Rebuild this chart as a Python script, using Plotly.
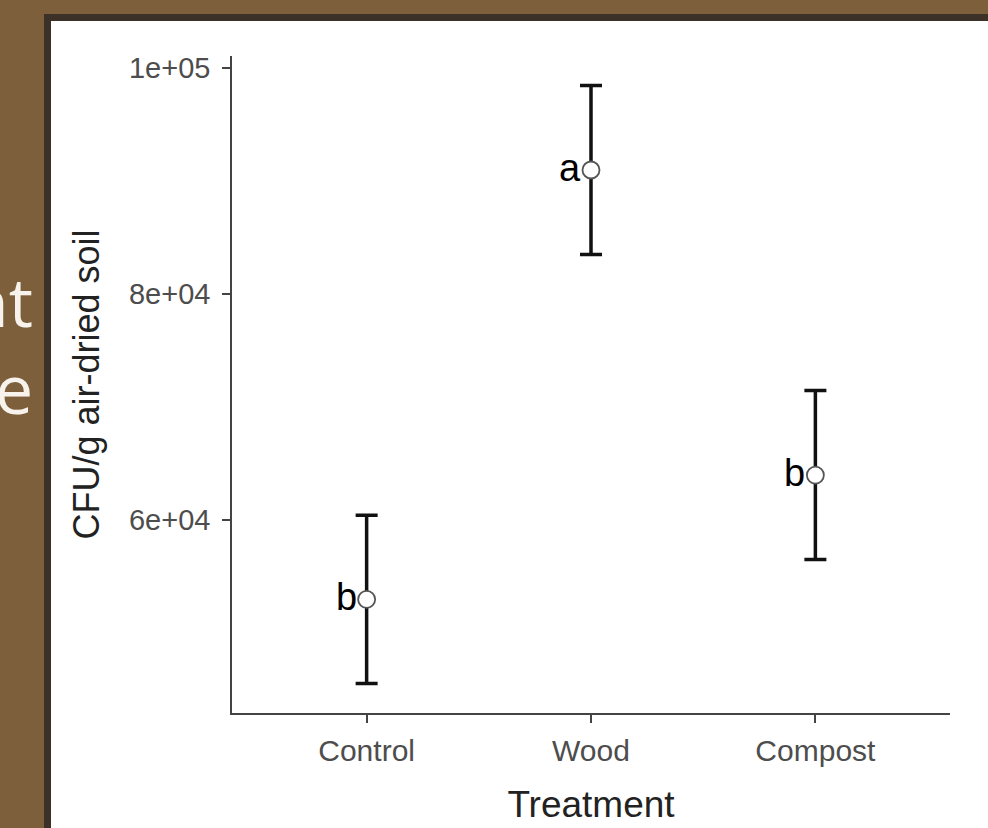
import plotly.graph_objects as go

# ---- data ----
treatments = ["Control", "Wood", "Compost"]
means = [53000, 91000, 64000]
se = [7450, 7480, 7480]
letters = ["b", "a", "b"]
ytick_vals = [60000, 80000, 100000]
ytick_text = ["6e+04", "8e+04", "1e+05"]
side_text = ["nt", "e"]

W, H = 988, 828
L, R, T, B = 232, 38, 56, 115
PW, PH = W - L - R, H - T - B


def px(x):
    return (x - L) / PW


def py(y):
    return (H - B - y) / PH


fig = go.Figure()

fig.add_trace(go.Scatter(
    x=[1, 2, 3], y=means,
    mode="markers",
    marker=dict(size=17, color="white", line=dict(color="#555555", width=1.8)),
    error_y=dict(type="data", array=se, visible=True, color="#111111",
                 thickness=3.5, width=11),
    showlegend=False, hoverinfo="skip",
))

annotations = []
for i, (m, lt) in enumerate(zip(means, letters)):
    annotations.append(dict(x=i + 1, y=m, xref="x", yref="y", text=lt,
                            showarrow=False, xanchor="right", yanchor="middle",
                            xshift=-8, yshift=2,
                            font=dict(family="Liberation Sans", size=38, color="black")))

# cut-off slide text on the wooden background
for txt, yy in zip(side_text, [300, 387]):
    annotations.append(dict(x=px(35), y=py(yy), xref="paper", yref="paper", text=txt,
                            showarrow=False, xanchor="right", yanchor="middle",
                            font=dict(family="Open Sans", size=68, color="#f7f3ec")))

shapes = [
    dict(type="rect", xref="paper", yref="paper", x0=px(44), x1=px(1100),
         y0=py(14), y1=py(900), fillcolor="#3b3128", line=dict(width=0), layer="below"),
    dict(type="rect", xref="paper", yref="paper", x0=px(51), x1=px(1100),
         y0=py(21), y1=py(900), fillcolor="white", line=dict(width=0), layer="below"),
]

fig.update_layout(
    width=W, height=H,
    margin=dict(l=L, r=R, t=T, b=B, autoexpand=False),
    paper_bgcolor="#7d5f3b",
    plot_bgcolor="rgba(0,0,0,0)",
    shapes=shapes,
    annotations=annotations,
    xaxis=dict(
        range=[0.4, 3.6], tickvals=[1, 2, 3], ticktext=treatments,
        showline=True, linecolor="#444444", linewidth=1.6,
        ticks="outside", ticklen=8, tickwidth=1.6, tickcolor="#444444",
        showgrid=False, zeroline=False, ticklabelstandoff=2,
        tickfont=dict(family="Liberation Sans", size=30, color="#4d4d4d"),
        title=dict(text="Treatment", standoff=25,
                   font=dict(family="Liberation Sans", size=37, color="#222222")),
    ),
    yaxis=dict(
        range=[42947, 101088], tickvals=ytick_vals, ticktext=ytick_text,
        showline=True, linecolor="#444444", linewidth=1.6,
        ticks="outside", ticklen=8, tickwidth=1.6, tickcolor="#444444",
        showgrid=False, zeroline=False, ticklabelstandoff=6,
        tickfont=dict(family="Liberation Sans", size=29, color="#4d4d4d"),
        title=dict(text="CFU/g air-dried soil", standoff=18,
                   font=dict(family="Liberation Sans", size=36, color="#222222")),
    ),
)

fig.write_html("out.html", config={"displayModeBar": False},
               post_script="document.body.style.margin='0';")
